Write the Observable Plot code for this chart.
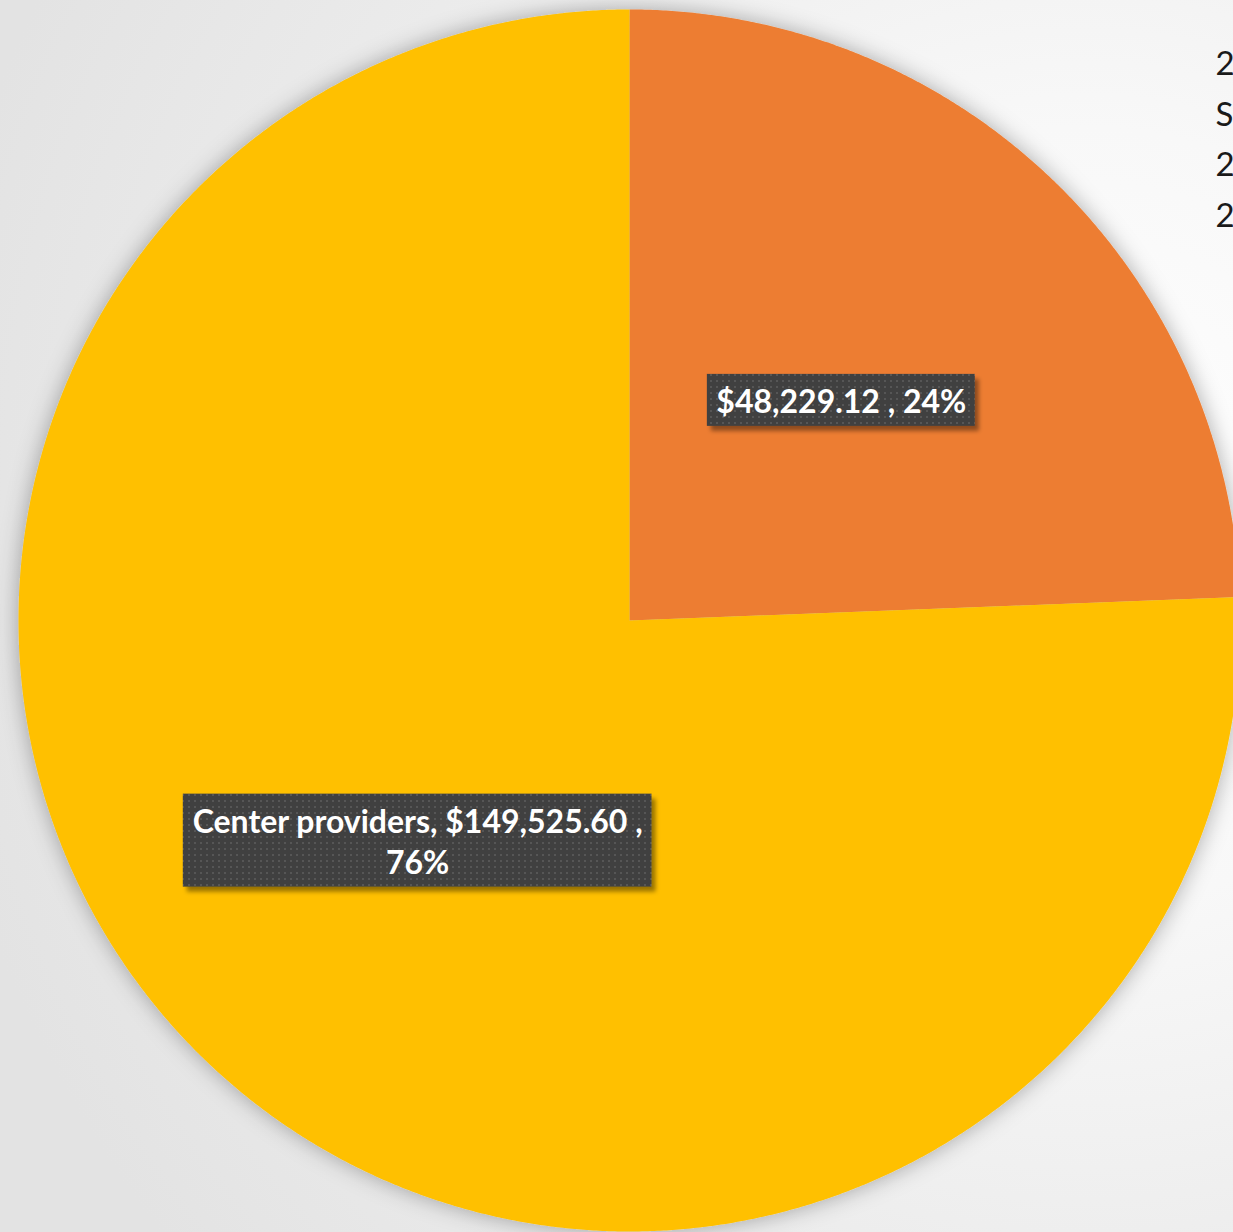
<!DOCTYPE html>
<html>
<head>
<meta charset="utf-8">
<script src="https://cdn.jsdelivr.net/npm/d3@7"></script>
<script src="https://cdn.jsdelivr.net/npm/@observablehq/plot@0.6"></script>
<style>
  html, body { margin: 0; padding: 0; }
  body {
    width: 1233px; height: 1232px; overflow: hidden;
    background: radial-gradient(circle at 88% 42%, #ffffff 0%, #f8f8f8 30%, #ececec 60%, #e3e3e3 90%);
  }
  #chart svg { display: block; }
</style>
</head>
<body>
<div id="chart"></div>
<script>
// ---- data ----
const categories = ["", "Center providers"];
const values = [48229.12, 149525.60];
const sliceColors = ["#ED7D31", "#FFC000"];
const legendLabels = ["2", "S", "2", "2"];

// ---- layout ----
const W = 1233, H = 1232;
const cx = 629, cy = 620, R = 611;
const labelSize = 32;
const labelFont = "bold " + labelSize + "px Lato";
const lineH = 41;

const total = d3.sum(values);
const pie = d3.pie().sort(null).value(d => d.value);
const arcs = pie(categories.map((c, i) => ({name: c, value: values[i], color: sliceColors[i]})));

// slice polygons (angles clockwise from 12 o'clock)
const polyPts = [];
arcs.forEach((a, k) => {
  const n = Math.max(2, Math.ceil((a.endAngle - a.startAngle) / 0.005));
  polyPts.push({k, name: a.data.name, x: cx, y: cy});
  for (let j = 0; j <= n; j++) {
    const t = a.startAngle + (a.endAngle - a.startAngle) * j / n;
    polyPts.push({k, name: a.data.name, x: cx + R * Math.sin(t), y: cy - R * Math.cos(t)});
  }
  polyPts.push({k, name: a.data.name, x: cx, y: cy});
});

// labels
const fmt = d3.format("$,.2f");
const pct = d3.format(".0%");
const ctx = document.createElement("canvas").getContext("2d");
ctx.font = labelFont;
const labels = arcs.map((a, k) => {
  const mid = (a.startAngle + a.endAngle) / 2;
  const text = a.data.name
    ? a.data.name + ", " + fmt(a.data.value) + " ,\n" + pct(a.data.value / total)
    : fmt(a.data.value) + " , " + pct(a.data.value / total);
  const lines = text.split("\n");
  const tw = d3.max(lines, l => ctx.measureText(l).width);
  const bw = tw + 18, bh = lines.length * lineH + 11;
  const x = cx + 0.5 * R * Math.sin(mid), y = cy - 0.5 * R * Math.cos(mid);
  return {k, text, x, y, x1: x - bw / 2, x2: x + bw / 2, y1: y - bh / 2, y2: y + bh / 2};
});

const plot = Plot.plot({
  width: W, height: H,
  margin: 0,
  x: {domain: [0, W], range: [0, W], axis: null},
  y: {domain: [0, H], range: [0, H], axis: null},
  style: {background: "transparent", overflow: "hidden"},
  marks: [
    Plot.line(polyPts, {x: "x", y: "y", z: "k", fill: d => sliceColors[d.k], stroke: null, curve: "linear"}),
    Plot.rect(labels, {x1: "x1", x2: "x2", y1: "y1", y2: "y2", fill: "#404040"}),
    Plot.text(labels, {x: "x", y: "y", text: "text", fill: "white", fontSize: labelSize, fontWeight: "bold",
      fontFamily: "Lato", lineHeight: lineH / labelSize, lineAnchor: "middle", textAnchor: "middle"}),
    Plot.text(legendLabels, {x: () => 1215, y: (d, i) => 64 + i * 50.5, text: d => d, fill: "#1a1a1a",
      fontSize: 33, fontFamily: "Lato", textAnchor: "start", lineAnchor: "middle"})
  ]
});

const svg = d3.select(plot);
const defs = svg.insert("defs", ":first-child");
const pieShadow = defs.append("filter").attr("id", "pieShadow")
  .attr("x", "-10%").attr("y", "-10%").attr("width", "120%").attr("height", "120%");
pieShadow.append("feGaussianBlur").attr("in", "SourceAlpha").attr("stdDeviation", 11).attr("result", "b");
pieShadow.append("feFlood").attr("flood-color", "#000").attr("flood-opacity", 0.32).attr("result", "c");
pieShadow.append("feComposite").attr("in", "c").attr("in2", "b").attr("operator", "in").attr("result", "s");
const m1 = pieShadow.append("feMerge");
m1.append("feMergeNode").attr("in", "s");
m1.append("feMergeNode").attr("in", "SourceGraphic");

const boxShadow = defs.append("filter").attr("id", "boxShadow")
  .attr("x", "-10%").attr("y", "-20%").attr("width", "130%").attr("height", "150%");
boxShadow.append("feDropShadow").attr("dx", 4).attr("dy", 5).attr("stdDeviation", 2)
  .attr("flood-color", "#000").attr("flood-opacity", 0.4);

const pat = defs.append("pattern").attr("id", "dots").attr("patternUnits", "userSpaceOnUse")
  .attr("width", 6).attr("height", 6);
pat.append("rect").attr("width", 6).attr("height", 6).attr("fill", "#404040");
pat.append("rect").attr("x", 2).attr("y", 2).attr("width", 2).attr("height", 2).attr("fill", "#575757");

svg.selectAll("g[aria-label=line]").attr("filter", "url(#pieShadow)");
svg.selectAll("g[aria-label=rect]").attr("filter", "url(#boxShadow)")
  .selectAll("rect").attr("fill", "url(#dots)");

document.getElementById("chart").appendChild(plot);
</script>
</body>
</html>
